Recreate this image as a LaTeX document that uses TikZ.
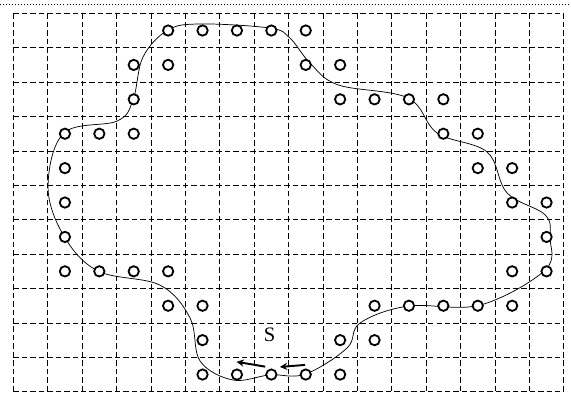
\documentclass[tikz,border=0pt]{standalone}
\usepackage{fontspec}
\setmainfont{Liberation Serif}
\usepackage{tikz}
\usetikzlibrary{arrows.meta}

\tikzset{
    gridline/.style={line width=0.7pt, dash pattern=on 4.5pt off 2.5pt},
    pt/.style={circle, draw, line width=1.5pt, minimum size=0.3cm, inner sep=0pt},
    boundary/.style={line width=0.6pt},
    move/.style={-{Stealth[length=6pt,width=6pt]}, line width=1.6pt}
}

\begin{document}
\begin{tikzpicture}
    \useasboundingbox (-0.387,0.387) rectangle (16.21,-11.18);
    \draw[line width=0.5pt, dotted] (-0.387,0.27) -- (16.21,0.27);

    \foreach \x in {0,...,16} {
        \draw[gridline] (\x,0) -- (\x,-11);
    }
    \foreach \y in {0,...,11} {
        \draw[gridline] (0,-\y) -- (16,-\y);
    }

    \draw[boundary] plot[smooth cycle, tension=0.6] coordinates {
        (4.49,-0.49) (5.43,-0.31) (7.46,-0.43) (8.04,-0.72) (8.62,-1.44)
        (9.44,-2.08) (11.47,-2.46) (12.32,-3.48) (13.77,-4.03) (14.35,-5.22)
        (15.46,-5.86) (15.60,-6.53) (15.46,-7.46) (13.57,-8.48) (11.47,-8.51)
        (10.08,-9.0) (9.70,-9.73) (8.48,-10.49) (7.46,-10.51) (6.39,-10.66)
        (5.43,-10.11) (5.14,-8.86) (4.26,-7.9) (2.46,-7.49) (1.47,-6.47)
        (1.01,-5.05) (1.47,-3.48) (3.02,-3.13) (3.48,-2.52) (3.77,-1.27)
    };

    \foreach \i/\j in {4/0, 5/0, 6/0, 7/0, 8/0,
                       3/1, 4/1, 8/1, 9/1,
                       3/2, 9/2, 10/2, 11/2, 12/2,
                       1/3, 2/3, 3/3, 12/3, 13/3,
                       1/4, 13/4, 14/4,
                       1/5, 14/5, 15/5,
                       1/6, 15/6,
                       1/7, 2/7, 3/7, 4/7, 14/7, 15/7,
                       4/8, 5/8, 10/8, 11/8, 12/8, 13/8, 14/8,
                       5/9, 9/9, 10/9,
                       5/10, 6/10, 7/10, 8/10, 9/10} {
        \node[pt, fill=white] (c\i-\j) at (\i+0.5,-\j-0.5) {};
    }

    \draw[move] ([shift={(-0.18,0.23)}]c7-10.center) -- ([shift={(-0.01,0.37)}]c6-10.center);
    \draw[move] ([shift={(-0.02,0.28)}]c8-10.center) -- ([shift={(0.25,0.22)}]c7-10.center);
    \node[font=\fontsize{17}{20}\selectfont] (s) at (7.45,-9.33) {S};
\end{tikzpicture}
\end{document}
